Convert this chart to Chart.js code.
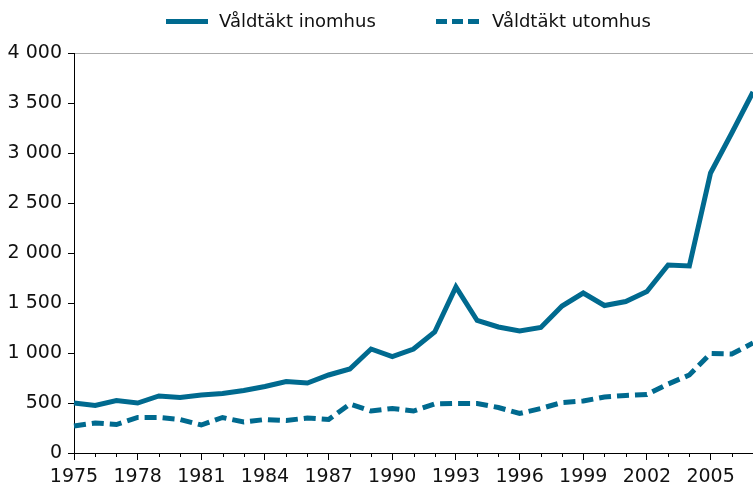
<!DOCTYPE html>
<html>
<head>
<meta charset="utf-8">
<script src="https://cdn.jsdelivr.net/npm/chart.js@4/dist/chart.umd.min.js"></script>
<style>
body{margin:0;background:#fff}
#wrap{width:753px;height:486px;position:relative}
.leg{position:absolute;top:9px;height:24px;line-height:24px;font-family:"DejaVu Sans";font-size:18px;color:#111;white-space:nowrap}
.prov{position:absolute;top:19px;height:5px}
.prov span{position:absolute;top:0;height:5px;width:11px;background:#006a8f}
</style>
</head>
<body>
<div id="wrap">
<canvas id="c"></canvas>
<div class="prov" style="left:166px;width:42px;background:#006a8f"></div>
<div class="leg" style="left:219px">Våldtäkt inomhus</div>
<div class="prov" style="left:436px;width:43px"><span style="left:0"></span><span style="left:16px"></span><span style="left:32px"></span></div>
<div class="leg" style="left:492px">Våldtäkt utomhus</div>
</div>
<script>
let years=[1975,1976,1977,1978,1979,1980,1981,1982,1983,1984,1985,1986,1987,1988,1989,1990,1991,1992,1993,1994,1995,1996,1997,1998,1999,2000,2001,2002,2003,2004,2005,2006,2007]
let inomhus=[500,475,525,500,570,555,580,595,625,665,715,700,780,840,1040,965,1040,1210,1660,1325,1260,1220,1255,1470,1600,1475,1515,1615,1880,1870,2800,3200,3610]
let utomhus=[270,300,285,355,355,335,280,355,310,335,325,350,335,490,420,445,420,490,495,495,455,395,445,505,520,560,575,585,690,780,995,990,1100]
let yTicks=[0,500,1000,1500,2000,2500,3000,3500,4000]

let farg="#006a8f"

function tusen(v){
if(v<1000) return ""+v
return Math.floor(v/1000)+" "+String(v%1000).padStart(3,"0")
}

// korta streck for varje ar som inte har etikett
let smaStreck={
id:"smaStreck",
afterDraw(chart){
let x=chart.scales.x
let ctx=chart.ctx
ctx.save()
ctx.strokeStyle="#000"
ctx.lineWidth=1
years.forEach((y,i)=>{
if(i%3==0) return
let px=Math.round(x.getPixelForTick(i))+0.5
ctx.beginPath()
ctx.moveTo(px,x.top)
ctx.lineTo(px,x.top+4)
ctx.stroke()
})
ctx.restore()
}
}

new Chart(document.getElementById("c"),{
type:"line",
data:{
labels:years,
datasets:[
{label:"Våldtäkt inomhus",data:inomhus,borderColor:farg,backgroundColor:farg,borderWidth:5,pointRadius:0,tension:0,borderCapStyle:"butt"},
{label:"Våldtäkt utomhus",data:utomhus,borderColor:farg,backgroundColor:farg,borderWidth:5,borderDash:[12,6],pointRadius:0,tension:0,borderCapStyle:"butt"}
]
},
options:{
responsive:true,
maintainAspectRatio:false,
animation:false,
layout:{padding:{left:0,right:0,top:53,bottom:0}},
plugins:{
legend:{display:false},
tooltip:{enabled:false}
},
scales:{
x:{
offset:false,
border:{color:"#000",width:1},
grid:{
drawOnChartArea:false,
tickLength:7,
offset:false,
tickColor:ctx=>ctx.index%3==0?"#000":"rgba(0,0,0,0)"
},
ticks:{
autoSkip:false,
maxRotation:0,
padding:6,
color:"#111",
font:{family:"DejaVu Sans",size:19},
callback:function(v,i){return i%3==0?years[i]:""}
},
afterFit(s){s.height=33;s.paddingRight=0}
},
y:{
min:0,
max:4000,
border:{color:"#000",width:1},
afterBuildTicks(s){s.ticks=yTicks.map(v=>({value:v}))},
grid:{
tickLength:6,
color:ctx=>ctx.tick&&ctx.tick.value==4000?"#aaa":"rgba(0,0,0,0)",
tickColor:"#000"
},
ticks:{
padding:6,
color:"#111",
font:{family:"DejaVu Sans",size:19},
callback:v=>tusen(v)
},
afterFit(s){s.width=74}
}
}
},
plugins:[smaStreck]
})
</script>
</body>
</html>
